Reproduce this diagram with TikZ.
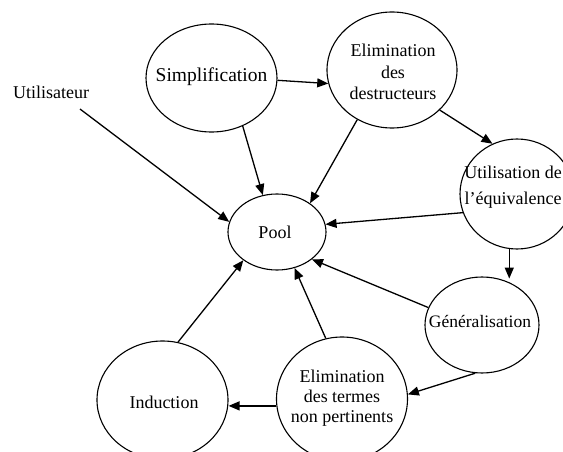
\documentclass[tikz,border=0pt]{standalone}
\usepackage{fontspec}
\setmainfont{Liberation Serif}
\usetikzlibrary{arrows.meta,shapes.geometric}
\begin{document}
\begin{tikzpicture}[x=1pt,y=-1pt,
  bubble/.style={draw, ellipse, line width=1.1pt, inner sep=0pt},
  txt/.style={inner sep=0pt, align=center, font=\fontsize{18}{21}\selectfont},
  arr/.style={line width=1.3pt, -{Triangle[length=11pt,width=9pt]}},
]
\useasboundingbox (0,0) rectangle (563,452);
\clip (0,0) rectangle (563,452);

% process bubbles
\node[bubble, minimum width=131, minimum height=108] (simp)  at (211.5,78) {};
\node[bubble, minimum width=130, minimum height=116] (elimd) at (392,70) {};
\node[bubble, minimum width=114, minimum height=110] (util)  at (517,194) {};
\node[bubble, minimum width=98,  minimum height=76]  (pool)  at (277,232) {};
\node[bubble, minimum width=114, minimum height=96]  (gen)   at (482,325) {};
\node[bubble, minimum width=131, minimum height=124] (elimt) at (342,399) {};
\node[bubble, minimum width=131, minimum height=118] (ind)   at (162.5,400) {};

% labels
\node[txt, font=\fontsize{19.5}{21}\selectfont] (simp-t) at (211.5,77) {Simplification};
\node[txt, font=\fontsize{18}{21.5}\selectfont] (elimd-t) at (393,72) {Elimination\\des\\destructeurs};
\node[txt, font=\fontsize{18}{26}\selectfont] (util-t) at (513,187) {Utilisation de\\l’équivalence};
\node[txt] (pool-t) at (275,232) {Pool};
\node[txt, font=\fontsize{17.5}{21}\selectfont] (gen-t) at (480,322) {Généralisation};
\node[txt, font=\fontsize{18}{20}\selectfont] (elimt-t) at (342,398) {Elimination\\des termes\\non pertinents};
\node[txt] (ind-t) at (164,402) {Induction};
\node[txt] (user) at (51,92) {Utilisateur};
\coordinate (ustart) at (80,109);

% flows
\draw[arr] (simp.-2) -- (elimd.192);
\draw[arr] (simp.-57) -- (pool.111);
\draw[arr] (elimd.235) -- (pool.41);
\draw[arr] (elimd.-40) -- (util.116);
\draw[arr] (util.199) -- (pool.9);
\draw[arr] (util.262) -- (util.262 |- gen.70);
\draw[arr] (gen.162) -- (pool.-38);
\draw[arr] (gen.262) -- (elimt.4);
\draw[arr] (elimt.105) -- (pool.-64);
\draw[arr] (elimt.186) -- (elimt.186 -| ind.east);
\draw[arr] (ind.75) -- (pool.220);
\draw[arr] (ustart) -- (pool.168);
\end{tikzpicture}
\end{document}
